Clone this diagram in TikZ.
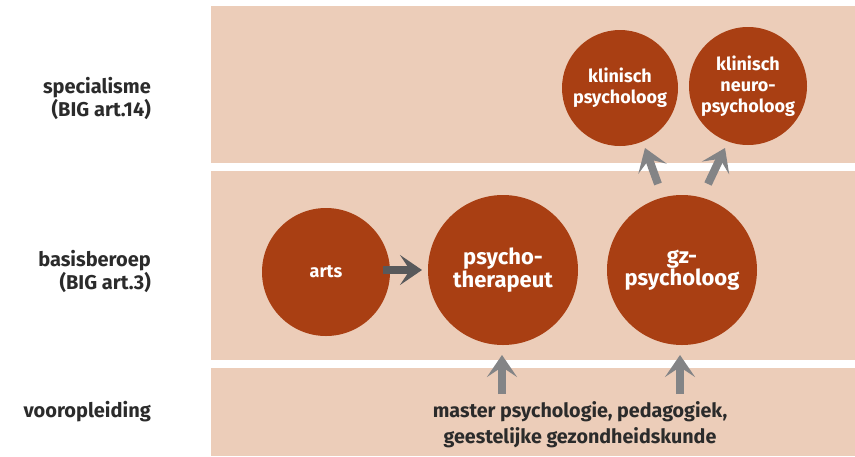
\documentclass[tikz,border=0pt]{standalone}
\usepackage{fontspec}
\setmainfont{Fira Sans}
\usetikzlibrary{arrows.meta}
\definecolor{band}{HTML}{ECCDB9}
\definecolor{rust}{HTML}{A93F13}
\definecolor{ink}{HTML}{2B2B2B}
\definecolor{arrgrey}{HTML}{838486}
\definecolor{arrdark}{HTML}{58595B}
\tikzset{
  bandbox/.style={fill=band, draw=none},
  circ/.style={circle, fill=rust, draw=none, text=white, align=center, inner sep=0pt, font=\bfseries\fontsize{18}{21}\selectfont},
  bigcirc/.style={circ, font=\bfseries\fontsize{22}{21}\selectfont},
  lbl/.style={text=ink, align=right, anchor=east, inner sep=0pt, font=\bfseries\fontsize{20}{23}\selectfont},
  bottomtxt/.style={text=ink, align=center, inner sep=0pt, font=\bfseries\fontsize{19.7}{26}\selectfont},
  arr/.style={line width=8pt, arrgrey, -{Stealth[length=22pt,width=30pt,inset=10pt]}},
  arrd/.style={arr, arrdark}
}
\begin{document}
\begin{tikzpicture}[x=1pt,y=-1pt]
\useasboundingbox (0,0) rectangle (855,456);
% bands
\fill[bandbox] (211,6) rectangle (855,163);
\fill[bandbox] (211,171) rectangle (855,360);
\fill[bandbox] (211,368) rectangle (855,456);
% left labels
\node[lbl] (l1) at (151,98) {specialisme\\(BIG art.14)};
\node[lbl] (l2) at (151,271) {basisberoep\\(BIG art.3)};
\node[lbl] (l3) at (151,412) {vooropleiding};
% circles
\node[circ, minimum size=128pt] (arts) at (326,272) {arts};
\node[bigcirc, minimum size=150pt] (psy) at (503,270) {psycho-\\therapeut};
\node[bigcirc, minimum size=150pt] (gz) at (682,270) {gz-\\psycholoog};
\node[circ, minimum size=116pt] (kp) at (620,88) {klinisch\\psycholoog};
\node[circ, minimum size=118pt] (knp) at (748,86) {klinisch\\neuro-\\psycholoog};
% bottom text
\node[bottomtxt] (master) at (580,425) {master psychologie, pedagogiek,\\geestelijke gezondheidskunde};
% arrows
\coordinate (h1) at (383,270);
\coordinate (h2) at (422,270);
\draw[arrd] (h1) -- (h2);
\coordinate (u1s) at (502,394);
\coordinate (u1e) at (502,355);
\draw[arr] (u1s) -- (u1e);
\coordinate (u2s) at (680,394);
\coordinate (u2e) at (680,355);
\draw[arr] (u2s) -- (u2e);
\coordinate (d1s) at (658,184);
\coordinate (d1e) at (645,148);
\draw[arr] (d1s) -- (d1e);
\coordinate (d2s) at (708,184);
\coordinate (d2e) at (725,148);
\draw[arr] (d2s) -- (d2e);
\end{tikzpicture}
\end{document}
